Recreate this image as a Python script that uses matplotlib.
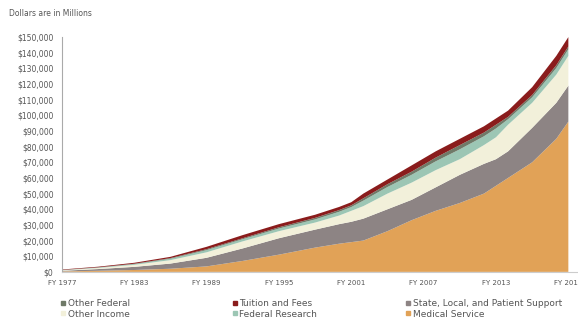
import matplotlib.pyplot as plt
from matplotlib.lines import Line2D

years = [1977, 1980, 1983, 1986, 1989, 1992, 1995, 1998, 2000, 2001, 2002,
         2004, 2006, 2008, 2010, 2012, 2013, 2014, 2016, 2018, 2019]

medical_service = [300, 700, 1200, 2000, 3500, 7000, 11000, 15500, 18000, 19000, 20000,
                   26000, 33000, 39000, 44000, 50000, 55000, 60000, 70000, 85000, 96000]
state_local = [400, 1100, 2000, 3300, 5500, 8000, 10500, 11500, 12500, 13000, 14000,
               14000, 13000, 15000, 18000, 19000, 17000, 17000, 22000, 23000, 23000]
other_income = [300, 700, 1300, 2200, 3500, 4500, 4500, 4500, 5500, 7000, 8000,
                10000, 11000, 11000, 10000, 12000, 14000, 17000, 16000, 18000, 19000]
federal_research = [150, 300, 500, 900, 1400, 1400, 1700, 2000, 2400, 2400, 3500,
                    4200, 5000, 5600, 6300, 5600, 5600, 3500, 3500, 4200, 4200]
other_federal = [50, 100, 200, 400, 600, 600, 800, 1000, 1100, 1100, 1500,
                 1800, 2000, 2400, 2700, 2400, 2400, 1500, 1500, 1800, 1800]
tuition_fees = [300, 400, 600, 800, 1500, 2000, 2000, 2000, 2000, 2000, 3000,
                3000, 4000, 4000, 4000, 4000, 4000, 4000, 5000, 6000, 6000]

tick_years = [1977, 1983, 1989, 1995, 2001, 2007, 2013, 2019]

c_med = '#E1A257'
c_state = '#8D8484'
c_inc = '#F2F0DA'
c_fr = '#9CC6B4'
c_of = '#6F7A68'
c_tui = '#8A1C1C'

fig = plt.figure(figsize=(5.78, 3.34), dpi=100)
ax = fig.add_axes([0.107, 0.186, 0.893, 0.703])

ax.stackplot(years, medical_service, state_local, other_income,
             federal_research, other_federal, tuition_fees,
             colors=[c_med, c_state, c_inc, c_fr, c_of, c_tui], linewidth=0)

ax.set_xlim(1977, 2019.8)
ax.set_ylim(0, 150000)
ax.set_yticks(range(0, 150001, 10000))
ax.set_yticklabels(['${:,}'.format(v) for v in range(0, 150001, 10000)],
                   fontsize=5.5, color='#555555')
ax.set_xticks(tick_years)
ax.set_xticklabels(['FY %d' % y for y in tick_years], fontsize=5, color='#555555')
ax.tick_params(axis='y', length=0, pad=6)
ax.tick_params(axis='x', length=0, pad=6)
for s in ['top', 'right']:
    ax.spines[s].set_visible(False)
ax.spines['left'].set_color('#AAAAAA')
ax.spines['bottom'].set_color('#CCCCCC')

fig.text(0.015, 0.952, 'Dollars are in Millions', fontsize=5.5, color='#555555')


def mk(c):
    return Line2D([], [], marker='s', linestyle='', markersize=3.5,
                  markerfacecolor=c, markeredgecolor=c)


legend_cols = [
    ([mk(c_of), mk(c_inc)], ['Other Federal', 'Other Income'], 0.103),
    ([mk(c_tui), mk(c_fr)], ['Tuition and Fees', 'Federal Research'], 0.400),
    ([mk(c_state), mk(c_med)], ['State, Local, and Patient Support', 'Medical Service'], 0.700),
]
for h, l, x in legend_cols:
    fig.legend(h, l, loc='upper left', bbox_to_anchor=(x, 0.104),
               frameon=False, fontsize=6.5, labelcolor='#555555', handletextpad=0.1,
               labelspacing=0.15, handlelength=0.8, borderaxespad=0, borderpad=0)

fig.savefig('out.png', dpi=100)
